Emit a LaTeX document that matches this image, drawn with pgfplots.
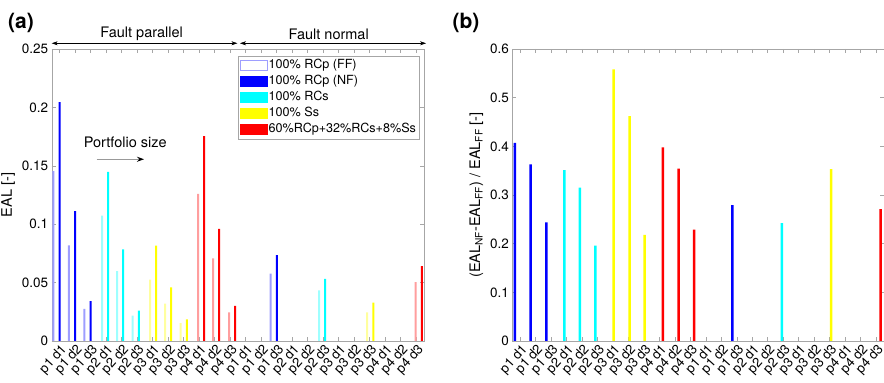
\documentclass[border=0pt]{standalone}
\usepackage{pgfplots}
\pgfplotsset{compat=1.18}
\usetikzlibrary{arrows.meta}
\usepackage{fontspec}
\setmainfont{TeX Gyre Heros}
\newcommand{\fs}[1]{\fontsize{#1}{#1}\selectfont}
\definecolor{mblue}{rgb}{0,0,1}
\definecolor{mcyan}{rgb}{0,1,1}
\definecolor{myellow}{rgb}{1,1,0}
\definecolor{mred}{rgb}{1,0,0}
\definecolor{lblue}{rgb}{0.62,0.62,1}
\definecolor{lcyan}{rgb}{0.62,1,1}
\definecolor{lyellow}{rgb}{1,1,0.62}
\definecolor{lred}{rgb}{1,0.62,0.62}

\pgfplotsset{
  panel/.style={
    scale only axis, width=372.3pt, height=292pt,
    xmin=0.5, xmax=24.5, ymin=0,
    xtick={1,...,24},
    xticklabels={p1 d1,p1 d2,p1 d3,p2 d1,p2 d2,p2 d3,p3 d1,p3 d2,p3 d3,p4 d1,p4 d2,p4 d3,p1 d1,p1 d2,p1 d3,p2 d1,p2 d2,p2 d3,p3 d1,p3 d2,p3 d3,p4 d1,p4 d2,p4 d3},
    tick align=inside, tick pos=both,
    major tick length=4pt,
    axis line style={black!35},
    tick style={black!35, line width=0.5pt},
    x tick label style={rotate=48, anchor=east, font=\fs{13.3}, inner sep=0pt, yshift=-8pt, xshift=-1pt},
    y tick label style={font=\fs{13.5}},
    /pgf/number format/assume math mode=true,
    yticklabel style={/pgf/number format/fixed, /pgf/number format/precision=2},
    scaled y ticks=false,
    ylabel style={font=\fs{14.5}},
    clip=false,
  },
  bars/.style={ybar, bar width=#1, bar shift=0pt, draw=none, forget plot},
}

\begin{document}
\begin{tikzpicture}
\useasboundingbox (0pt,0pt) rectangle (884pt,383pt);

% ---------------- panel (a) ----------------
\begin{axis}[panel, at={(51.7pt,42pt)}, anchor=south west,
  ymax=0.25, ytick={0,0.05,0.1,0.15,0.2,0.25},
  ylabel={EAL [-]},
  legend style={at={(1,1)}, anchor=north east, xshift=-4.7pt, yshift=-7pt,
    draw=black!35, font=\fs{12.6}, cells={anchor=west}, inner sep=1.5pt,
    row sep=0pt, nodes={inner sep=1.6pt, text height=9.6pt, text depth=3.2pt}},
  legend image code/.code={\draw[#1] (0pt,-5pt) rectangle (26.5pt,5pt);},
]
% FF (light) and NF (dark) bars; x = bar position, y = EAL
\addplot[bars=2pt, fill=lblue] coordinates {(0.603,0.1455) (1.615,0.0819) (2.602,0.0274) (14.620,0.0576)};
\addplot[bars=2pt, fill=mblue] coordinates {(1.003,0.2046) (2.015,0.1113) (3.002,0.0342) (15.020,0.0736)};
\addplot[bars=2pt, fill=lcyan] coordinates {(3.743,0.1073) (4.710,0.0599) (5.722,0.0217) (17.734,0.0434)};
\addplot[bars=2pt, fill=mcyan] coordinates {(4.143,0.1447) (5.110,0.0785) (6.122,0.0260) (18.134,0.0531)};
\addplot[bars=2pt, fill=lyellow] coordinates {(6.838,0.0525) (7.805,0.0319) (8.817,0.0154) (20.829,0.0245)};
\addplot[bars=2pt, fill=myellow] coordinates {(7.238,0.0816) (8.205,0.0460) (9.217,0.0186) (21.229,0.0328)};
\addplot[bars=2pt, fill=lred] coordinates {(9.932,0.1259) (10.899,0.0708) (11.931,0.0245) (23.968,0.0505)};
\addplot[bars=2pt, fill=mred] coordinates {(10.332,0.1755) (11.299,0.0959) (12.331,0.0300) (24.368,0.0642)};

\addlegendimage{draw=lblue, fill=white}
\addlegendentry{100\% RCp (FF)}
\addlegendimage{draw=mblue, fill=mblue}
\addlegendentry{100\% RCp (NF)}
\addlegendimage{draw=mcyan, fill=mcyan}
\addlegendentry{100\% RCs}
\addlegendimage{draw=myellow, fill=myellow}
\addlegendentry{100\% Ss}
\addlegendimage{draw=mred, fill=mred}
\addlegendentry{60\%RCp+32\%RCs+8\%Ss}

% annotations
\draw[black, {Stealth[length=6pt,width=4pt]}-{Stealth[length=6pt,width=4pt]}] (axis cs:0.5,0.2549) -- (axis cs:12.47,0.2549);
\draw[black, {Stealth[length=6pt,width=4pt]}-{Stealth[length=6pt,width=4pt]}] (axis cs:12.64,0.2549) -- (axis cs:24.63,0.2549);
\node[font=\fs{14.5}] at (axis cs:6.3,0.2626) {Fault parallel};
\node[font=\fs{14.5}] at (axis cs:18.36,0.2626) {Fault normal};
\node[font=\fs{14.5}] at (axis cs:5.24,0.1698) {Portfolio size};
\draw[black!40, line width=1pt, -{Stealth[black,length=7pt,width=5pt]}] (axis cs:3.40,0.1556) -- (axis cs:6.45,0.1556);
\end{axis}

% ---------------- panel (b) ----------------
\begin{axis}[panel, at={(512.3pt,42pt)}, anchor=south west, width=371.5pt,
  ymax=0.6, ytick={0,0.1,0.2,0.3,0.4,0.5,0.6},
  ylabel={(EAL\textsubscript{NF}-EAL\textsubscript{FF}) / EAL\textsubscript{FF} [-]},
]
\addplot[bars=2.5pt, fill=mblue] coordinates {(0.674,0.407) (1.689,0.363) (2.696,0.244) (14.712,0.279)};
\addplot[bars=2.5pt, fill=mcyan] coordinates {(3.859,0.351) (4.873,0.315) (5.862,0.196) (17.923,0.242)};
\addplot[bars=2.5pt, fill=myellow] coordinates {(7.050,0.558) (8.084,0.462) (9.053,0.218) (21.090,0.353)};
\addplot[bars=2.5pt, fill=mred] coordinates {(10.235,0.398) (11.249,0.354) (12.238,0.229) (24.300,0.271)};
\end{axis}

\node[font=\bfseries\fs{21}] at (21pt,360pt) {(a)};
\node[font=\bfseries\fs{21}] at (466pt,360pt) {(b)};
\end{tikzpicture}
\end{document}
